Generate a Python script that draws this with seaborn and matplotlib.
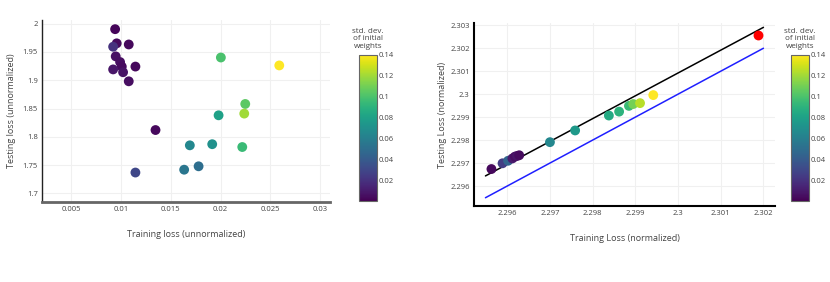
import numpy as np
import pandas as pd
import seaborn as sns
import matplotlib
matplotlib.use('Agg')
from matplotlib import pyplot as plt
from matplotlib.ticker import FuncFormatter

sns.set_theme(style="white")
plt.rcParams['font.family'] = ['Open Sans', 'DejaVu Sans']

# left panel: unnormalized losses
train_unnorm = [0.0094, 0.00956, 0.01077, 0.0092, 0.00946, 0.0099, 0.01007, 0.0092, 0.0102, 0.01144,
                0.01077, 0.01346, 0.01144, 0.01634, 0.01779, 0.01691, 0.01916, 0.0198, 0.02003, 0.02218,
                0.02248, 0.02238, 0.0259]
test_unnorm = [1.990, 1.965, 1.963, 1.959, 1.942, 1.932, 1.924, 1.919, 1.914, 1.924,
               1.898, 1.812, 1.737, 1.742, 1.748, 1.785, 1.787, 1.838, 1.940, 1.782,
               1.858, 1.841, 1.926]
std_left = [0.002, 0.004, 0.003, 0.02, 0.006, 0.005, 0.004, 0.008, 0.007, 0.003,
            0.005, 0.003, 0.03, 0.055, 0.05, 0.065, 0.07, 0.08, 0.1, 0.095,
            0.105, 0.12, 0.14]

# right panel: normalized losses
train_norm = [2.29563, 2.29589, 2.29602, 2.29612, 2.29618, 2.29623, 2.29628, 2.2970, 2.29759,
              2.29838, 2.29862, 2.29885, 2.29895, 2.29911, 2.29942]
test_norm = [2.29674, 2.29699, 2.29710, 2.29720, 2.29728, 2.29731, 2.29734, 2.29791, 2.29842,
             2.29907, 2.29924, 2.29949, 2.29957, 2.29961, 2.29996]
std_right = [0.003, 0.025, 0.045, 0.01, 0.005, 0.008, 0.004, 0.065, 0.075,
             0.085, 0.09, 0.095, 0.11, 0.125, 0.14]
outlier_x = [2.30187]
outlier_y = [2.30258]
line_x = [2.29549, 2.302]
fit_y = [2.29644, 2.30291]

df_left = pd.DataFrame({"train": train_unnorm, "test": test_unnorm, "std": std_left})
df_right = pd.DataFrame({"train": train_norm, "test": test_norm, "std": std_right})

txt = '#444444'
norm = plt.Normalize(0, 0.14)
fmt = FuncFormatter(lambda v, p: f"{v:g}")

fig = plt.figure(figsize=(8.3, 2.82), dpi=100)
ax1 = fig.add_axes([0.0506, 0.2837, 0.347, 0.645])
ax2 = fig.add_axes([0.571, 0.2695, 0.3627, 0.649])
cax1 = fig.add_axes([0.4325, 0.287, 0.0217, 0.518])
cax2 = fig.add_axes([0.953, 0.287, 0.0217, 0.518])

sns.scatterplot(data=df_left, x="train", y="test", hue="std", palette="viridis", hue_norm=norm,
                s=50, linewidth=0, legend=False, ax=ax1, zorder=3)
ax1.set_xlim(0.00205, 0.031)
ax1.set_ylim(1.685, 2.006)
ax1.set_xticks([0.005, 0.01, 0.015, 0.02, 0.025, 0.03])
ax1.set_yticks([1.7, 1.75, 1.8, 1.85, 1.9, 1.95, 2])
ax1.set_xlabel("Training loss (unnormalized)", labelpad=12)
ax1.set_ylabel("Testing loss (unnormalized)", labelpad=5)

sns.lineplot(x=line_x, y=fit_y, color='black', lw=1.1, ax=ax2, zorder=2)
sns.lineplot(x=line_x, y=line_x, color='#1f1fff', lw=1.1, ax=ax2, zorder=2)
sns.scatterplot(data=df_right, x="train", y="test", hue="std", palette="viridis", hue_norm=norm,
                s=50, linewidth=0, legend=False, ax=ax2, zorder=3)
sns.scatterplot(x=outlier_x, y=outlier_y, color='red', s=50, linewidth=0, ax=ax2, zorder=3)
ax2.set_xlim(2.29522, 2.30227)
ax2.set_ylim(2.29513, 2.3031)
ax2.set_xticks([2.296, 2.297, 2.298, 2.299, 2.3, 2.301, 2.302])
ax2.set_yticks([2.296, 2.297, 2.298, 2.299, 2.3, 2.301, 2.302, 2.303])
ax2.set_xlabel("Training Loss (normalized)", labelpad=12)
ax2.set_ylabel("Testing Loss (normalized)", labelpad=2)

for ax in (ax1, ax2):
    ax.xaxis.set_major_formatter(fmt)
    ax.yaxis.set_major_formatter(fmt)
    ax.grid(True, color='#f0f0f0', lw=0.8)
    ax.set_axisbelow(True)
    ax.tick_params(length=0, labelsize=5.5, labelcolor=txt, pad=3)
    ax.xaxis.label.set_color(txt)
    ax.yaxis.label.set_color(txt)
    ax.xaxis.label.set_size(6.5)
    ax.yaxis.label.set_size(6.5)
    for s in ('top', 'right'):
        ax.spines[s].set_visible(False)

ax1.spines['left'].set_color('#222222')
ax1.spines['left'].set_linewidth(1.0)
ax1.spines['bottom'].set_color('#666666')
ax1.spines['bottom'].set_linewidth(2.0)
ax2.spines['left'].set_color('black')
ax2.spines['left'].set_linewidth(1.5)
ax2.spines['bottom'].set_color('black')
ax2.spines['bottom'].set_linewidth(1.5)

sm = plt.cm.ScalarMappable(norm=norm, cmap='viridis')
for cax in (cax1, cax2):
    cb = fig.colorbar(sm, cax=cax, ticks=[0.02, 0.04, 0.06, 0.08, 0.1, 0.12, 0.14])
    cb.ax.yaxis.set_major_formatter(fmt)
    cb.outline.set_edgecolor('#666666')
    cb.outline.set_linewidth(0.8)
    cb.ax.tick_params(length=0, labelsize=5.5, labelcolor=txt, pad=1)
    cax.set_title("std. dev.\nof initial\nweights", fontsize=5.8, color=txt, pad=5, linespacing=1.15)

plt.savefig('out.png', dpi=100)
